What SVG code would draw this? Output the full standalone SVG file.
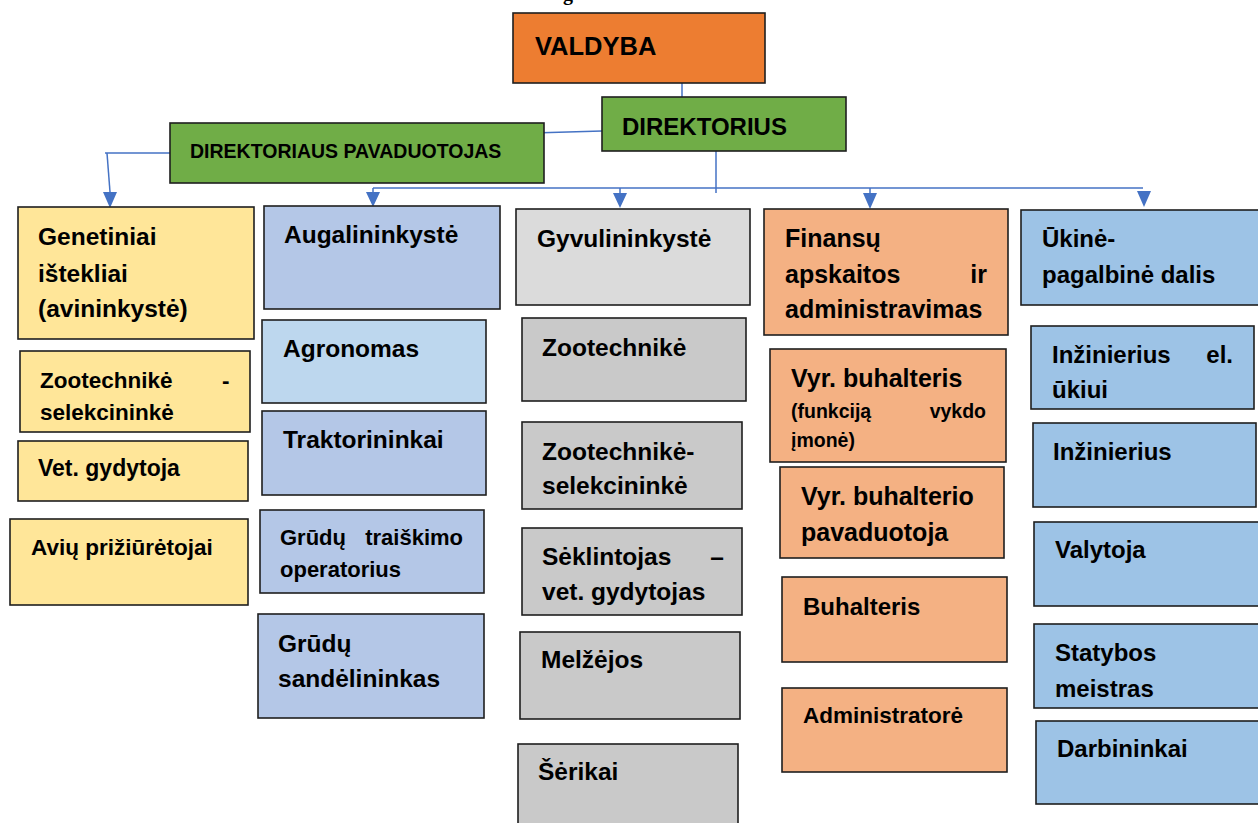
<svg xmlns="http://www.w3.org/2000/svg" width="1258" height="823" viewBox="0 0 1258 823">
<style>
.b{stroke:#1f1f1f;stroke-width:1.6}
.t{font-family:"Liberation Sans",Arial,sans-serif;font-weight:bold;fill:#000}
.c{stroke:#4472C4;stroke-width:1.5;fill:none}
.org{fill:#ED7D31}.grn{fill:#70AD47}.yel{fill:#FFE699}.blu{fill:#B4C7E7}.lbl{fill:#BDD7EE}
.gl{fill:#DBDBDB}.gr{fill:#C9C9C9}.or{fill:#F4B183}.rb{fill:#9DC3E6}
</style>
<rect width="1258" height="823" fill="#fff"/>
<text x="563" y="0" style="font-family:'Liberation Serif',serif;font-weight:bold;font-size:20px">g</text>

<g id="connectors">
<line class="c" x1="682" y1="83" x2="682" y2="97"/>
<line class="c" x1="533" y1="133" x2="602" y2="131"/>
<line class="c" x1="174" y1="153" x2="105" y2="153"/>
<polyline class="c" points="107,153 110,192"/>
<path d="M103,192 L117,192 L110,208 Z" fill="#4472C4"/>
<line class="c" x1="716" y1="151" x2="716" y2="193"/>
<line class="c" x1="373" y1="188" x2="1143" y2="188"/>
<line class="c" x1="373" y1="188" x2="373" y2="192"/>
<path d="M366,192 L380,192 L373,207 Z" fill="#4472C4"/>
<line class="c" x1="620" y1="188" x2="620" y2="193"/>
<path d="M613,193 L627,193 L620,208 Z" fill="#4472C4"/>
<line class="c" x1="870" y1="188" x2="870" y2="193"/>
<path d="M863,193 L877,193 L870,209 Z" fill="#4472C4"/>
<path d="M1137,191 L1151,191 L1144,207 Z" fill="#4472C4"/>
</g>

<g id="valdyba"><rect class="b org" x="513" y="13" width="252" height="70"/><text class="t" x="535" y="55" font-size="25.5">VALDYBA</text></g>
<g id="direktorius"><rect class="b grn" x="602" y="97" width="244" height="54"/><text class="t" x="622" y="135" font-size="24">DIREKTORIUS</text></g>
<g id="pavaduotojas"><rect class="b grn" x="170" y="123" width="374" height="60"/><text class="t" x="190" y="158" font-size="19.5">DIREKTORIAUS PAVADUOTOJAS</text></g>

<g id="genetiniai"><rect class="b yel" x="18" y="207" width="236" height="132"/><text class="t" font-size="24.5"><tspan x="38" y="245">Genetiniai</tspan><tspan x="38" y="282">ištekliai</tspan><tspan x="38" y="317">(avininkystė)</tspan></text></g>
<g id="zoot-sel"><rect class="b yel" x="20" y="351" width="230" height="81"/><text class="t" font-size="22.5"><tspan x="40" y="388">Zootechnikė</tspan><tspan x="222" y="388">-</tspan><tspan x="40" y="420">selekcininkė</tspan></text></g>
<g id="vet1"><rect class="b yel" x="18" y="441" width="230" height="60"/><text class="t" x="38" y="476" font-size="23">Vet. gydytoja</text></g>
<g id="aviu"><rect class="b yel" x="10" y="519" width="238" height="86"/><text class="t" x="31" y="555" font-size="22.5">Avių prižiūrėtojai</text></g>

<g id="augalininkyste"><rect class="b blu" x="264" y="206" width="236" height="103"/><text class="t" x="284" y="243" font-size="24.5">Augalininkystė</text></g>
<g id="agronomas"><rect class="b lbl" x="262" y="320" width="224" height="83"/><text class="t" x="283" y="357" font-size="24.5">Agronomas</text></g>
<g id="traktorininkai"><rect class="b blu" x="262" y="411" width="224" height="84"/><text class="t" x="283" y="448" font-size="24.5">Traktorininkai</text></g>
<g id="traiskimo"><rect class="b blu" x="260" y="510" width="224" height="83"/><text class="t" font-size="22"><tspan x="280" y="545">Grūdų</tspan><tspan x="463" y="545" text-anchor="end">traiškimo</tspan><tspan x="280" y="577">operatorius</tspan></text></g>
<g id="sandelininkas"><rect class="b blu" x="258" y="614" width="226" height="104"/><text class="t" font-size="24.5"><tspan x="278" y="652">Grūdų</tspan><tspan x="278" y="687">sandėlininkas</tspan></text></g>

<g id="gyvulininkyste"><rect class="b gl" x="516" y="209" width="234" height="96"/><text class="t" x="537" y="247" font-size="24.5">Gyvulininkystė</text></g>
<g id="zootechnike"><rect class="b gr" x="522" y="318" width="224" height="83"/><text class="t" x="542" y="356" font-size="24.5">Zootechnikė</text></g>
<g id="zoot-sel2"><rect class="b gr" x="522" y="422" width="220" height="87"/><text class="t" font-size="24.5"><tspan x="542" y="460">Zootechnikė-</tspan><tspan x="542" y="494">selekcininkė</tspan></text></g>
<g id="seklintojas"><rect class="b gr" x="522" y="528" width="220" height="87"/><text class="t" font-size="24.5"><tspan x="542" y="565">Sėklintojas</tspan><tspan x="724" y="565" text-anchor="end">–</tspan><tspan x="542" y="600">vet. gydytojas</tspan></text></g>
<g id="melzejos"><rect class="b gr" x="520" y="632" width="220" height="87"/><text class="t" x="541" y="668" font-size="24.5">Melžėjos</text></g>
<g id="serikai"><rect class="b gr" x="518" y="744" width="220" height="90"/><text class="t" x="538" y="780" font-size="24.5">Šėrikai</text></g>

<g id="finansu"><rect class="b or" x="764" y="209" width="244" height="126"/><text class="t" font-size="25"><tspan x="785" y="247">Finansų</tspan><tspan x="785" y="283">apskaitos</tspan><tspan x="987" y="283" text-anchor="end">ir</tspan><tspan x="785" y="318">administravimas</tspan></text></g>
<g id="vyr-buh"><rect class="b or" x="770" y="349" width="236" height="113"/><text class="t"><tspan x="791" y="387" font-size="25">Vyr. buhalteris</tspan><tspan x="791" y="418" font-size="19.5">(funkciją</tspan><tspan x="986" y="418" font-size="19.5" text-anchor="end">vykdo</tspan><tspan x="791" y="447" font-size="19.5">įmonė)</tspan></text></g>
<g id="vyr-buh-pav"><rect class="b or" x="780" y="467" width="224" height="91"/><text class="t" font-size="25"><tspan x="801" y="505">Vyr. buhalterio</tspan><tspan x="801" y="541">pavaduotoja</tspan></text></g>
<g id="buhalteris"><rect class="b or" x="782" y="577" width="225" height="85"/><text class="t" x="803" y="615" font-size="24">Buhalteris</text></g>
<g id="administratore"><rect class="b or" x="782" y="688" width="225" height="84"/><text class="t" x="803" y="723" font-size="22.5">Administratorė</text></g>

<g id="ukine"><rect class="b rb" x="1021" y="210" width="240" height="95"/><text class="t" font-size="24"><tspan x="1042" y="247">Ūkinė-</tspan><tspan x="1042" y="283">pagalbinė dalis</tspan></text></g>
<g id="inz-el"><rect class="b rb" x="1031" y="326" width="223" height="83"/><text class="t" font-size="24"><tspan x="1052" y="363">Inžinierius</tspan><tspan x="1233" y="363" text-anchor="end">el.</tspan><tspan x="1052" y="398">ūkiui</tspan></text></g>
<g id="inzinierius"><rect class="b rb" x="1033" y="423" width="223" height="84"/><text class="t" x="1053" y="460" font-size="24">Inžinierius</text></g>
<g id="valytoja"><rect class="b rb" x="1034" y="522" width="230" height="84"/><text class="t" x="1055" y="558" font-size="24">Valytoja</text></g>
<g id="statybos"><rect class="b rb" x="1034" y="624" width="230" height="84"/><text class="t" font-size="24"><tspan x="1055" y="661">Statybos</tspan><tspan x="1055" y="697">meistras</tspan></text></g>
<g id="darbininkai"><rect class="b rb" x="1036" y="721" width="230" height="83"/><text class="t" x="1057" y="757" font-size="24">Darbininkai</text></g>
</svg>
